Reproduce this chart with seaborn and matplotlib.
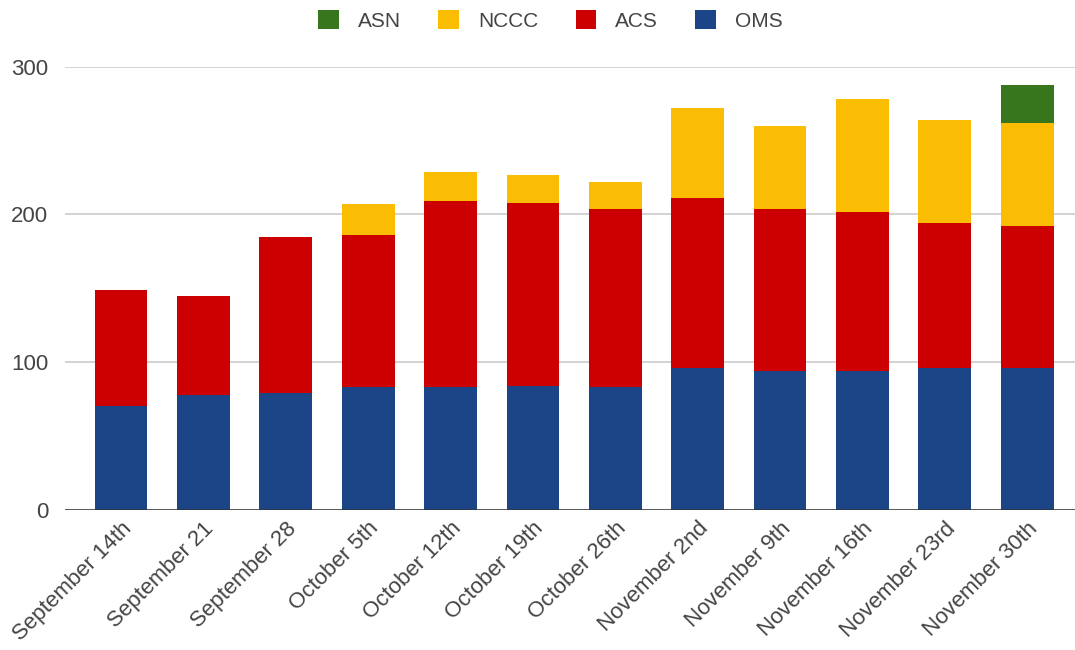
import matplotlib
matplotlib.use("Agg")
import matplotlib.pyplot as plt
from matplotlib.patches import Patch
import pandas as pd
import seaborn as sns

weeks = ["September 14th", "September 21", "September 28", "October 5th",
         "October 12th", "October 19th", "October 26th", "November 2nd",
         "November 9th", "November 16th", "November 23rd", "November 30th"]
oms = [70, 78, 79, 83, 83, 84, 83, 96, 94, 94, 96, 96]
acs = [79, 67, 106, 103, 126, 124, 121, 115, 110, 108, 98, 96]
nccc = [0, 0, 0, 21, 20, 19, 18, 61, 56, 76, 70, 70]
asn = [0, 0, 0, 0, 0, 0, 0, 0, 0, 0, 0, 26]

series = ["OMS", "ACS", "NCCC", "ASN"]
colors = {"OMS": "#1c4587", "ACS": "#cc0000", "NCCC": "#fbbc04", "ASN": "#38761d"}

df = pd.DataFrame({"week": weeks, "OMS": oms, "ACS": acs, "NCCC": nccc, "ASN": asn})
# running totals so each layer sits on the ones below it
cum = df[series].cumsum(axis=1)
cum["week"] = df["week"]

sns.set_style("white")
plt.rcParams["font.family"] = ["Liberation Sans", "DejaVu Sans"]

fig = plt.figure(figsize=(10.75, 6.5), dpi=100)
ax = fig.add_axes([0.0605, 0.216, 0.9395, 0.681])

for name in reversed(series):
    sns.barplot(data=cum, x="week", y=name, order=weeks, color=colors[name],
                width=0.64, saturation=1, linewidth=0, edgecolor="none",
                ax=ax, zorder=3)

ax.set_ylim(0, 300)
ax.set_xlim(-0.68, 11.58)
ax.set_yticks([0, 100, 200, 300])
ax.yaxis.grid(True, color="#cccccc", linewidth=1.2, zorder=0)
ax.set_axisbelow(True)
ax.axhline(0, color="#333333", linewidth=1.8, zorder=4)
for s in ax.spines.values():
    s.set_visible(False)
ax.set_xlabel("")
ax.set_ylabel("")
ax.tick_params(axis="y", length=0, labelsize=16, labelcolor="#444444", pad=12)
ax.tick_params(axis="x", length=0, labelsize=16, labelcolor="#444444", pad=6)
plt.setp(ax.get_xticklabels(), rotation=45, ha="right", rotation_mode="anchor")

handles = [Patch(facecolor=colors[n], edgecolor="none", label=n) for n in ["ASN", "NCCC", "ACS", "OMS"]]
fig.legend(handles=handles, loc="upper center", bbox_to_anchor=(0.512, 1.013), ncol=4,
           frameon=False, fontsize=15, handlelength=1.0, handleheight=1.0,
           columnspacing=1.8, handletextpad=0.9, labelcolor="#444444")

fig.savefig("out.png", dpi=100, facecolor="white")
